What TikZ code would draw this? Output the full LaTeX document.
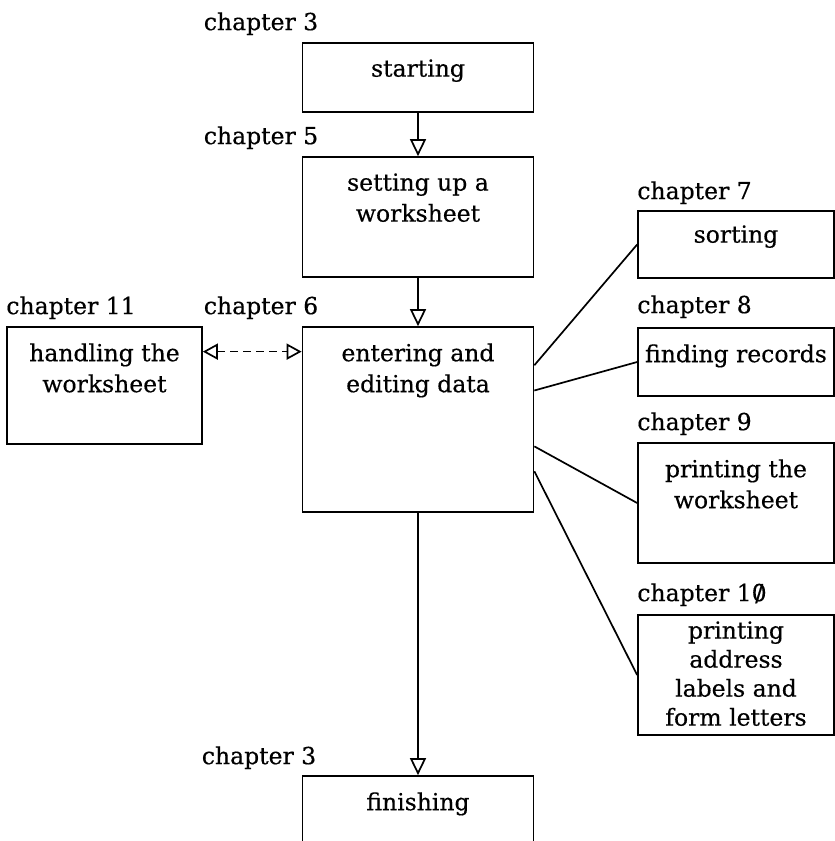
\documentclass[tikz,border=0pt]{standalone}
\usepackage{fontspec}
\setmainfont[FakeBold=0.4]{DejaVu Serif}
\usetikzlibrary{arrows.meta, positioning}
\tikzset{
    box/.style={rectangle, draw, line width=1.7pt, minimum width=231pt, inner sep=0pt},
    sidebox/.style={box, minimum width=196pt},
    boxtext/.style={align=center, inner sep=0pt, font=\fontsize{23.5}{31}\selectfont},
    chap/.style={anchor=base west, inner sep=0pt, font=\fontsize{23.5}{27}\selectfont},
    arrow/.style={line width=1.7pt, -{Triangle[open, length=17pt, width=16pt]}},
    link/.style={line width=1.7pt}
}
\newcommand{\slzero}{\ooalign{0\cr\hidewidth/\hidewidth}}

\begin{document}
\begin{tikzpicture}[x=1pt, y=1pt]
        \clip (0,0) rectangle (835,-841);

        % main column
        \node (Start_box) [box, minimum height=69pt] at (418, -77.5) {};
        \node (Setup_box) [box, minimum height=120pt] at (418, -217) {};
        \node (Enter_box) [box, minimum height=185pt] at (418, -419.5) {};
        \node (Finish_box) [box, minimum height=120pt] at (418, -836) {};
        \node (Handle_box) [box, minimum width=195pt, minimum height=117pt] at (104.5, -385.5) {};

        % side boxes
        \node (Sort_box) [sidebox, minimum height=67pt] at (736, -244.5) {};
        \node (Find_box) [sidebox, minimum height=68pt] at (736, -362) {};
        \node (PrintWS_box) [sidebox, minimum height=120pt] at (736, -503) {};
        \node (Labels_box) [sidebox, minimum height=120pt] at (736, -675) {};

        % box texts
        \node (Start_text) [boxtext, below=17pt of Start_box.north] {starting};
        \node (Setup_text) [boxtext, below=17pt of Setup_box.north] {setting up a\\worksheet};
        \node (Enter_text) [boxtext, below=17pt of Enter_box.north] {entering and\\editing data};
        \node (Finish_text) [boxtext, below=17pt of Finish_box.north] {finishing};
        \node (Handle_text) [boxtext, below=17pt of Handle_box.north] {handling the\\worksheet};
        \node (Sort_text) [boxtext, below=15pt of Sort_box.north] {sorting};
        \node (Find_text) [boxtext, below=17pt of Find_box.north] {finding records};
        \node (PrintWS_text) [boxtext, below=17pt of PrintWS_box.north] {printing the\\worksheet};
        \node (Labels_text) [boxtext, below=7pt of Labels_box.north, font=\fontsize{23.5}{29}\selectfont] {printing\\address\\labels and\\form letters};

        % chapter labels
        \node (Ch3_label) [chap] at ([shift={(-98pt,12pt)}]Start_box.north west) {chapter 3};
        \node (Ch5_label) [chap] at ([shift={(-98pt,12pt)}]Setup_box.north west) {chapter 5};
        \node (Ch6_label) [chap] at ([shift={(-98pt,12pt)}]Enter_box.north west) {chapter 6};
        \node (Ch3b_label) [chap] at ([shift={(-100pt,11pt)}]Finish_box.north west) {chapter 3};
        \node (Ch11_label) [chap] at ([yshift=12pt]Handle_box.north west) {chapter 11};
        \node (Ch7_label) [chap] at ([yshift=11pt]Sort_box.north west) {chapter 7};
        \node (Ch8_label) [chap] at ([yshift=14pt]Find_box.north west) {chapter 8};
        \node (Ch9_label) [chap] at ([yshift=12pt]PrintWS_box.north west) {chapter 9};
        \node (Ch10_label) [chap] at ([yshift=13pt]Labels_box.north west) {chapter 1\slzero};

        % flow
        \draw[arrow] (Start_box) -- (Setup_box);
        \draw[arrow] (Setup_box) -- (Enter_box);
        \draw[arrow] (Enter_box) -- (Finish_box);
        \draw[arrow, {Triangle[open, length=15pt, width=16pt]}-{Triangle[open, length=15pt, width=16pt]}, dash pattern=on 8pt off 5pt] (Handle_box.19) -- (Handle_box.19 -| Enter_box.west);

        % side links
        \draw[link] (Enter_box.25) -- (Sort_box.west);
        \draw[link] (Enter_box.14) -- (Find_box.west);
        \draw[link] (Enter_box.-13) -- (PrintWS_box.west);
        \draw[link] (Enter_box.-24) -- (Labels_box.west);

    \end{tikzpicture}
\end{document}
